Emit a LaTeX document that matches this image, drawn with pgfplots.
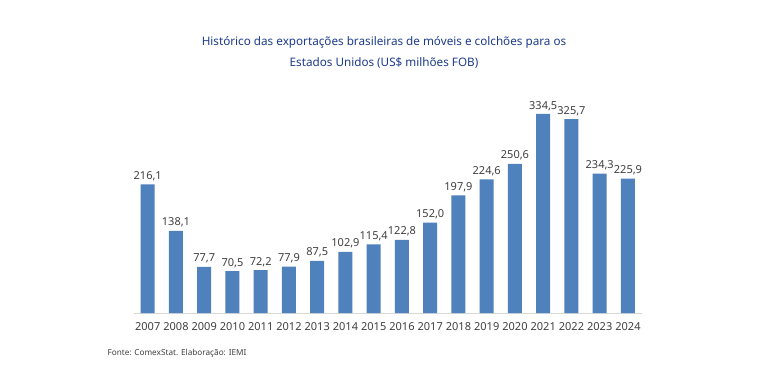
\documentclass[border=0pt]{standalone}
\usepackage{pgfplots}
\pgfplotsset{compat=1.18}
\usepackage{fontspec}
\setmainfont{Noto Sans}
\definecolor{barblue}{RGB}{79,129,189}
\definecolor{titleblue}{RGB}{30,60,140}
\definecolor{labgray}{RGB}{64,64,64}
\definecolor{axgray}{RGB}{217,217,217}
\begin{document}
\begin{tikzpicture}[x=1pt,y=1pt]
\path[use as bounding box,fill=white] (0,0) rectangle (768,372);
\node[text=titleblue,font=\fontsize{11.7}{13}\selectfont] at (384,330) {Histórico das exportações brasileiras de móveis e colchões para os};
\node[text=titleblue,font=\fontsize{11.7}{13}\selectfont] at (384,309) {Estados Unidos (US\$ milhões FOB)};
\node[anchor=west,text=labgray,font=\fontsize{8.2}{10}\selectfont] at (104,19) {Fonte: ComexStat. Elaboração: IEMI};
\begin{axis}[
  at={(133.6pt,59pt)}, anchor=south west,
  scale only axis, width=508.5pt, height=238pt,
  xmin=-0.5, xmax=17.5, ymin=0, ymax=400,
  axis x line*=bottom, axis y line=none,
  x axis line style={draw=axgray,line width=0.8pt,-},
  xtick=data, major tick length=0pt,
  xticklabels={2007,2008,2009,2010,2011,2012,2013,2014,2015,2016,2017,2018,2019,2020,2021,2022,2023,2024},
  xticklabel style={text=labgray,font=\fontsize{11}{13}\selectfont,yshift=-6pt},
  ybar, bar width=14pt,
  nodes near coords,
  every node near coord/.append style={text=labgray,font=\fontsize{11}{13}\selectfont},
  /pgf/number format/.cd, fixed, fixed zerofill, precision=1, use comma, assume math mode=true,
]
\addplot[fill=barblue,draw=none] coordinates {
(0,216.1) (1,138.1) (2,77.7) (3,70.5) (4,72.2) (5,77.9) (6,87.5) (7,102.9) (8,115.4)
(9,122.8) (10,152.0) (11,197.9) (12,224.6) (13,250.6) (14,334.5) (15,325.7) (16,234.3) (17,225.9)};
\end{axis}
\end{tikzpicture}
\end{document}
